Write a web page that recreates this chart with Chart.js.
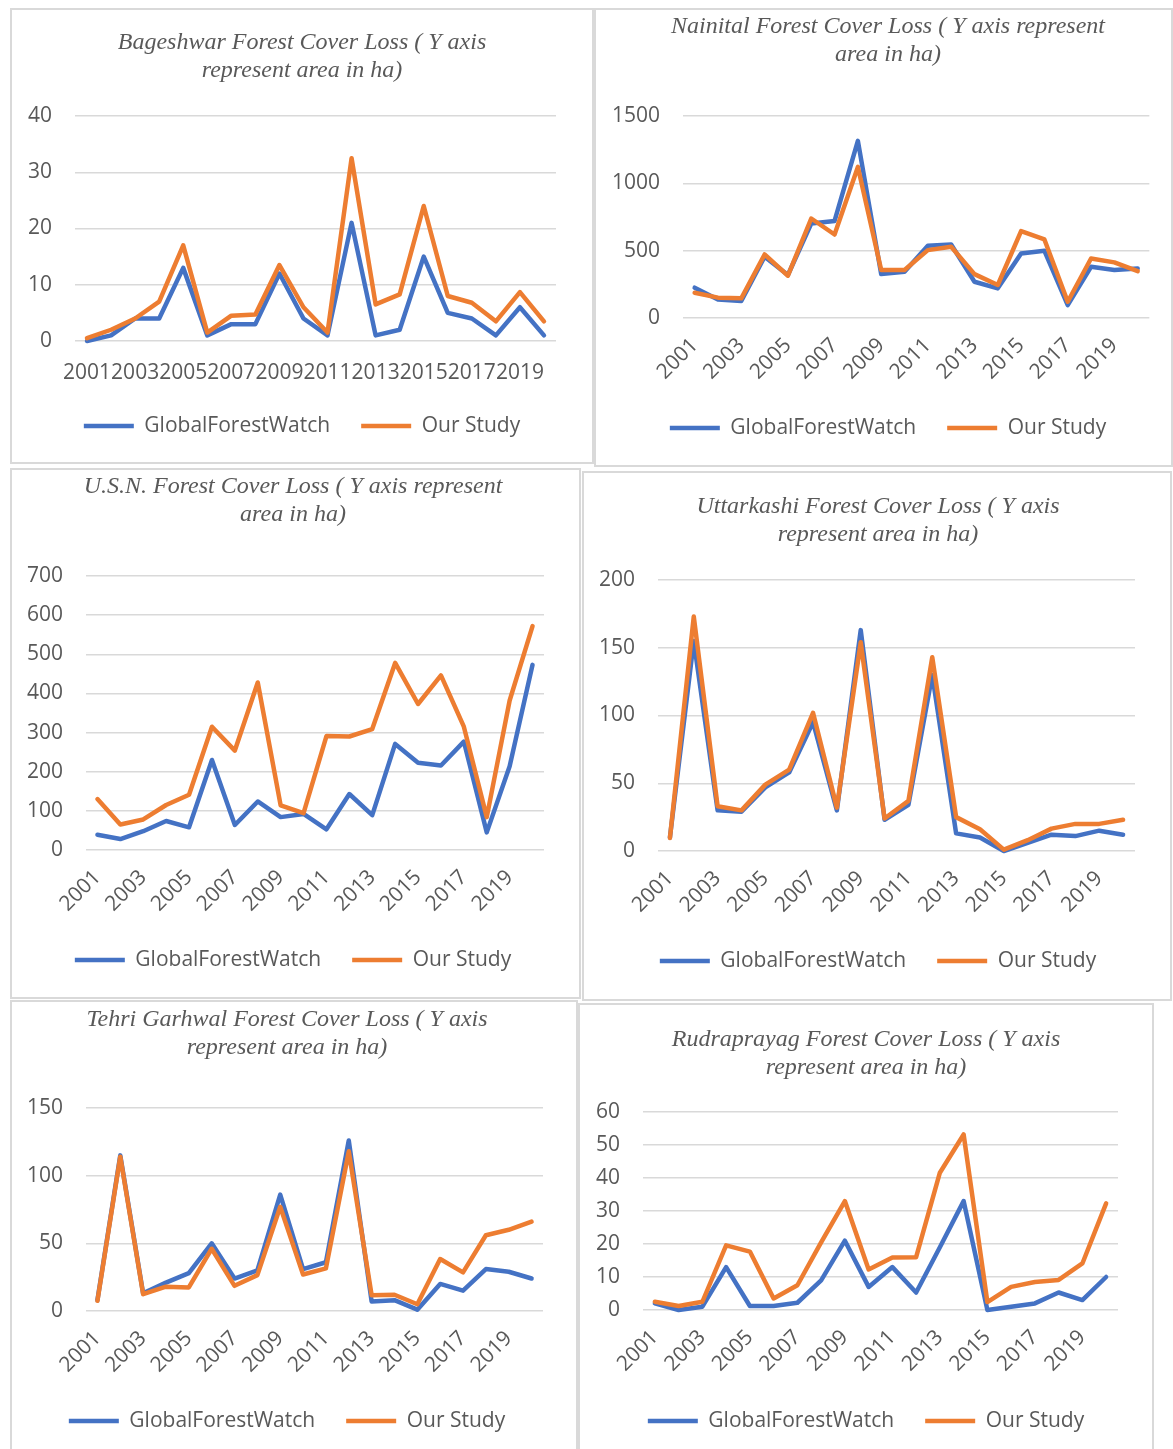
<!DOCTYPE html>
<html>
<head>
<meta charset="utf-8">
<title>Forest Cover Loss</title>
<script src="https://cdn.jsdelivr.net/npm/chart.js"></script>
<style>
  body { margin: 0; background: #fff; width: 1173px; height: 1449px; position: relative; overflow: hidden; }
  .box { position: absolute; border: 2px solid #d9d9d9; box-sizing: border-box; background: #fff; }
  .box canvas { display: block; }
</style>
</head>
<body>
<div class="box" style="left:10px;top:8px;width:584px;height:456px"><canvas id="bageshwarChart" width="580" height="452"></canvas></div>
<div class="box" style="left:594px;top:8px;width:579px;height:459px"><canvas id="nainitalChart" width="575" height="455"></canvas></div>
<div class="box" style="left:10px;top:468px;width:571px;height:531px"><canvas id="usnChart" width="567" height="527"></canvas></div>
<div class="box" style="left:582px;top:471px;width:590px;height:530px"><canvas id="uttarkashiChart" width="586" height="526"></canvas></div>
<div class="box" style="left:10px;top:1000px;width:568px;height:460px"><canvas id="tehriChart" width="564" height="456"></canvas></div>
<div class="box" style="left:578px;top:1003px;width:576px;height:460px"><canvas id="rudraprayagChart" width="572" height="456"></canvas></div>

<script>
// years on the category axis (every other one gets a label)
const years = ['2001', '2002', '2003', '2004', '2005', '2006', '2007', '2008', '2009', '2010',
               '2011', '2012', '2013', '2014', '2015', '2016', '2017', '2018', '2019', '2020'];

// area lost in ha
const bageshwarGFW = [0, 1, 4, 4, 13, 1, 3, 3, 12, 4, 1, 21, 1, 2, 15, 5, 4, 1, 6, 1];
const bageshwarOurs = [0.5, 2, 4, 7, 17, 1.5, 4.5, 4.7, 13.5, 6, 1.5, 32.5, 6.5, 8.3, 24, 8, 6.8, 3.5, 8.7, 3.5];

const nainitalGFW = [225, 138, 126, 455, 319, 702, 721, 1315, 326, 343, 536, 546, 269, 220, 479, 499, 96, 380, 356, 368];
const nainitalOurs = [188, 151, 146, 472, 314, 739, 620, 1122, 356, 356, 504, 529, 326, 245, 645, 583, 121, 442, 413, 348];

const usnGFW = [39, 28, 48, 74, 58, 230, 64, 124, 84, 92, 53, 143, 89, 271, 223, 216, 277, 45, 214, 473];
const usnOurs = [130, 65, 78, 115, 141, 315, 254, 428, 114, 94, 291, 290, 309, 478, 373, 446, 315, 84, 382, 572];

const uttarkashiGFW = [10, 155, 30, 29, 47, 58, 95, 30, 163, 23, 34, 130, 13, 10, 0, 6, 12, 11, 15, 12];
const uttarkashiOurs = [9.6, 173, 33, 30, 49, 60, 102, 32, 154, 24, 37, 143, 25, 16, 1, 8, 16.5, 20, 20, 23];

const tehriGFW = [8, 115, 13, 21, 28, 50, 24, 30, 86, 31, 36, 126, 7, 8, 1, 20, 15, 31, 29, 24];
const tehriOurs = [7.5, 114, 12.4, 18, 17.4, 46, 18.6, 26.5, 77, 27, 31.5, 118, 11.7, 12, 5, 38.4, 28.5, 56, 60, 66];

const rudraprayagGFW = [2, 0, 1, 13, 1.2, 1.2, 2.2, 9, 21, 7, 13, 5.3, 19, 33, 0, 1, 2, 5.3, 3, 10];
const rudraprayagOurs = [2.5, 1.2, 2.5, 19.6, 17.7, 3.5, 7.5, 20.5, 33, 12.3, 15.9, 16, 41.6, 53.2, 2.4, 7, 8.5, 9.1, 14.1, 32.3];

const blue = '#4472C4';
const orange = '#ED7D31';
const textGrey = '#595959';
const gridGrey = '#d9d9d9';

const tickFont = { family: '"Open Sans", sans-serif', size: 21 };

// the tick labels here run into the legend band, so don't clip them to the scale box
if (Chart.Scale) {
    Chart.Scale.prototype._computeLabelArea = function() { return null; };
}

// L holds the target pixel positions inside the canvas: plot edges, title/legend centre lines
function makeChart(id, titleLines, gfw, ours, yMax, yStep, flat, L) {
    const canvas = document.getElementById(id);
    const w = canvas.width, h = canvas.height;
    const lh = 28;
    const legendPad = 31;
    const padLeft = 2 * L.cx - L.right;
    const padRight = w - L.right;
    const titleTop = L.titleY - lh / 2;
    const titleBottom = L.top - titleTop - lh * titleLines.length;
    const padBottom = h - L.legendY - 20.5;
    const legendTop = L.legendY - 10.5 - legendPad;

    return new Chart(canvas.getContext('2d'), {
        type: 'line',
        data: {
            labels: years,
            datasets: [{
                label: 'GlobalForestWatch',
                data: gfw,
                borderColor: blue,
                backgroundColor: blue,
                order: 1
            }, {
                label: 'Our Study',
                data: ours,
                borderColor: orange,
                backgroundColor: orange,
                order: 0
            }]
        },
        options: {
            responsive: false,
            animation: false,
            devicePixelRatio: 1,
            events: [],
            datasets: {
                line: {
                    borderWidth: 4.5,
                    pointRadius: 0,
                    tension: 0,
                    borderJoinStyle: 'round',
                    borderCapStyle: 'round',
                    clip: 8
                }
            },
            layout: { padding: { left: padLeft, right: padRight, top: 0, bottom: padBottom } },
            plugins: {
                tooltip: { enabled: false },
                title: {
                    display: true,
                    text: titleLines,
                    color: textGrey,
                    font: { family: '"Liberation Serif", "Times New Roman", serif', size: 24, style: 'italic', weight: 'normal', lineHeight: lh / 24 },
                    padding: { top: titleTop, bottom: titleBottom }
                },
                legend: {
                    position: 'bottom',
                    labels: {
                        usePointStyle: true,
                        pointStyle: 'line',
                        pointStyleWidth: 50,
                        padding: legendPad,
                        color: textGrey,
                        font: tickFont,
                        sort: function(a, b) { return a.datasetIndex - b.datasetIndex; }
                    }
                }
            },
            scales: {
                x: {
                    offset: true,
                    grid: { display: false, drawTicks: false },
                    border: { display: false },
                    afterFit: function(scale) { scale.height = legendTop - L.bottom; },
                    ticks: {
                        autoSkip: false,
                        minRotation: flat ? 0 : 45,
                        maxRotation: flat ? 0 : 45,
                        padding: flat ? 19 : 15,
                        color: textGrey,
                        font: tickFont,
                        callback: function(value, index) {
                            return index % 2 === 0 ? this.getLabelForValue(value) : '';
                        }
                    }
                },
                y: {
                    min: 0,
                    max: yMax,
                    grid: { color: gridGrey, lineWidth: 1.5, drawTicks: false },
                    border: { display: false },
                    afterFit: function(scale) { scale.width = L.left - padLeft; },
                    ticks: {
                        stepSize: yStep,
                        padding: 23,
                        color: textGrey,
                        font: tickFont,
                        callback: function(value) { return String(value); }
                    }
                }
            }
        }
    });
}

makeChart('bageshwarChart', ['Bageshwar Forest Cover Loss ( Y axis', 'represent area in ha)'],
    bageshwarGFW, bageshwarOurs, 40, 10, true,
    { left: 63, right: 544, top: 106, bottom: 331, titleY: 33, legendY: 416, cx: 290 });

makeChart('nainitalChart', ['Nainital Forest Cover Loss ( Y axis represent', 'area in ha)'],
    nainitalGFW, nainitalOurs, 1500, 500, false,
    { left: 87, right: 555, top: 106, bottom: 308, titleY: 17, legendY: 418, cx: 292 });

makeChart('usnChart', ['U.S.N. Forest Cover Loss ( Y axis represent', 'area in ha)'],
    usnGFW, usnOurs, 700, 100, false,
    { left: 74, right: 532, top: 106, bottom: 380, titleY: 17, legendY: 490, cx: 281 });

makeChart('uttarkashiChart', ['Uttarkashi Forest Cover Loss ( Y axis', 'represent area in ha)'],
    uttarkashiGFW, uttarkashiOurs, 200, 50, false,
    { left: 74, right: 551, top: 107, bottom: 378, titleY: 34, legendY: 488, cx: 294 });

makeChart('tehriChart', ['Tehri Garhwal Forest Cover Loss ( Y axis', 'represent area in ha)'],
    tehriGFW, tehriOurs, 150, 50, false,
    { left: 74, right: 531, top: 106, bottom: 309, titleY: 18, legendY: 419, cx: 275 });

makeChart('rudraprayagChart', ['Rudraprayag Forest Cover Loss ( Y axis', 'represent area in ha)'],
    rudraprayagGFW, rudraprayagOurs, 60, 10, false,
    { left: 63, right: 538, top: 107, bottom: 305, titleY: 35, legendY: 416, cx: 286 });
</script>
</body>
</html>
